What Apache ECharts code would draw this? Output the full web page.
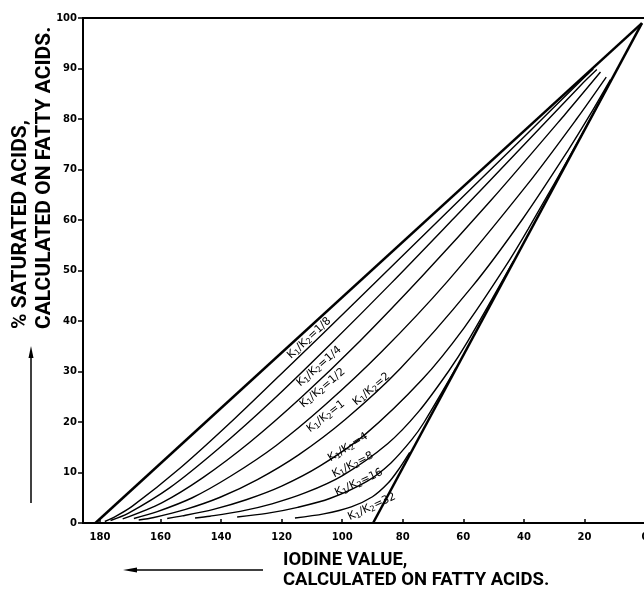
<!DOCTYPE html>
<html>
<head>
<meta charset="utf-8">
<script src="https://cdn.jsdelivr.net/npm/echarts@6/dist/echarts.min.js"></script>
<style>
html, body { margin: 0; padding: 0; background: #fff; }
#chart { width: 644px; height: 589px; }
</style>
</head>
<body>
<div id="chart"></div>
<script>
// iodine value (x) vs % saturated acids (y)
const upperEdge = [[181.5, 0], [1, 99]];
const rightEdge = [[89.8, 0], [1, 99]];

const k1_8 = [[178.4, 0.3], [176.1, 0.9], [169.4, 3.3], [153.3, 11.0], [135.3, 20.8], [116.4, 31.7], [97.1, 42.9], [77.7, 54.3], [58.3, 65.7], [38.9, 77.1], [19.4, 88.6], [17.1, 89.9]];
const k1_4 = [[176.5, 0.5], [170.7, 1.9], [156.9, 7.0], [140.9, 14.7], [123.0, 24.3], [103.9, 35.4], [83.8, 47.5], [63.2, 60.3], [42.3, 73.4], [21.2, 86.7], [15.9, 89.8]];
const k1_2 = [[172.5, 0.8], [159.6, 4.0], [146.0, 9.0], [130.5, 16.0], [113.3, 25.0], [94.2, 36.0], [73.4, 49.0], [50.7, 64.0], [26.3, 81.0], [14.7, 89.3]];
const k1 = [[168.8, 0.9], [161.3, 2.2], [149.5, 5.0], [136.5, 9.4], [121.9, 15.3], [105.6, 23.4], [87.0, 33.9], [65.3, 47.8], [38.9, 67.0], [22.6, 80.0], [12.8, 88.3]];
const k2 = [[167.2, 0.6], [162.2, 1.1], [151.7, 2.7], [140.3, 5.1], [128.0, 8.6], [114.4, 13.5], [99.0, 20.5], [80.8, 30.6], [57.1, 46.8], [40.3, 60.3], [25.5, 73.7], [18.0, 81.0], [11.4, 87.8]];
const k4 = [[157.8, 0.9], [152.8, 1.4], [142.5, 2.7], [131.7, 4.6], [120.0, 7.3], [107.3, 11.3], [92.5, 17.5], [73.6, 28.4], [59.8, 38.6], [46.4, 50.5], [38.6, 58.2], [21.4, 76.3], [12.0, 86.7]];
const k8 = [[148.6, 1.0], [143.7, 1.35], [133.7, 2.3], [123.2, 3.8], [112.1, 6.0], [99.9, 9.4], [85.0, 15.7], [74.7, 22.1], [64.7, 30.2], [58.6, 35.9], [43.5, 51.8]];
const k16 = [[134.7, 1.2], [124.9, 1.9], [114.7, 3.1], [103.9, 4.9], [91.7, 8.3], [83.9, 11.9], [76.9, 16.6], [72.9, 20.0], [62.4, 30.7]];
const k32 = [[115.6, 1.0], [106.1, 1.8], [97.0, 3.2], [90.0, 5.2], [85.0, 7.8], [81.5, 10.5], [77.7, 14.0]];

const curveNames = ['1/8', '1/4', '1/2', '1', '2', '4', '8', '16', '32'];
// label centre [iodine value, % saturated, angle in degrees]
const curveLabelPos = [[110.9, 36.6, 43], [107.6, 31.0, 41], [106.5, 26.7, 40], [105.4, 21.1, 38], [90.3, 26.5, 40], [98.1, 15.0, 32], [96.5, 11.5, 27], [94.5, 8.0, 25], [90.2, 3.2, 25]];

const chart = echarts.init(document.getElementById('chart'));
const curves = [k1_8, k1_4, k1_2, k1, k2, k4, k8, k16, k32];
const xTitleFont = 'bold 18.5px Roboto';
const yTitleFont = 'bold 21px Roboto';

const series = [
  { type: 'line', data: upperEdge, lineStyle: { width: 2.5 } },
  { type: 'line', data: rightEdge, lineStyle: { width: 2.5 } }
].concat(curves.map(d => ({ type: 'line', data: d, smooth: 0.3, lineStyle: { width: 1.4 } })));
series.forEach(s => {
  s.symbol = 'none';
  s.lineStyle.color = '#000';
  s.silent = true;
});

chart.setOption({
  animation: false,
  grid: {
    left: 83, right: -1, top: 18, bottom: 66, outerBoundsMode: 'none', containLabel: false,
    show: true, borderColor: '#000', borderWidth: 2
  },
  xAxis: {
    type: 'value', inverse: true, min: 0, max: 185.6, interval: 20,
    splitLine: { show: false },
    axisLine: { onZero: false, lineStyle: { color: '#000', width: 2 } },
    axisTick: { inside: true, length: 4, lineStyle: { color: '#000', width: 1.5 } },
    axisLabel: {
      color: '#000', fontFamily: 'DejaVu Sans', fontWeight: 'bold', fontSize: 10, margin: 9,
      formatter: v => (v % 20 === 0 ? String(v) : '')
    }
  },
  yAxis: {
    type: 'value', min: 0, max: 100, interval: 10,
    splitLine: { show: false },
    axisLine: { onZero: false, lineStyle: { color: '#000', width: 2 } },
    axisTick: { inside: false, length: 5, lineStyle: { color: '#000', width: 1.5 } },
    axisLabel: { color: '#000', fontFamily: 'DejaVu Sans', fontWeight: 'bold', fontSize: 10, margin: 6 }
  },
  series: series
});

const graphics = curveNames.map((n, i) => {
  const p = chart.convertToPixel({ gridIndex: 0 }, [curveLabelPos[i][0], curveLabelPos[i][1]]);
  return {
    type: 'text', x: p[0], y: p[1], rotation: curveLabelPos[i][2] * Math.PI / 180,
    style: {
      text: 'K{s|1}/K{s|2}=' + n, align: 'center', verticalAlign: 'middle',
      font: '11px "DejaVu Sans"', fill: '#000',
      rich: { s: { fontSize: 8, fontFamily: 'DejaVu Sans', padding: [5, 0, 0, 0] } }
    }
  };
});

graphics.push(
  { type: 'text', x: 21, y: 329, rotation: Math.PI / 2,
    style: { text: '% SATURATED ACIDS,', align: 'left', verticalAlign: 'middle', font: yTitleFont, fill: '#000' } },
  { type: 'text', x: 45, y: 329, rotation: Math.PI / 2,
    style: { text: 'CALCULATED ON FATTY ACIDS.', align: 'left', verticalAlign: 'middle', font: yTitleFont, fill: '#000' } },
  { type: 'text', x: 283, y: 560,
    style: { text: 'IODINE VALUE,', align: 'left', verticalAlign: 'middle', font: xTitleFont, fill: '#000' } },
  { type: 'text', x: 283, y: 580,
    style: { text: 'CALCULATED ON FATTY ACIDS.', align: 'left', verticalAlign: 'middle', font: xTitleFont, fill: '#000' } },
  // arrows
  { type: 'line', shape: { x1: 31, y1: 503, x2: 31, y2: 356 }, style: { stroke: '#000', lineWidth: 1.5 } },
  { type: 'polygon', shape: { points: [[31, 346], [28.5, 358], [33.5, 358]] }, style: { fill: '#000' } },
  { type: 'line', shape: { x1: 135, y1: 570, x2: 263, y2: 570 }, style: { stroke: '#000', lineWidth: 1.5 } },
  { type: 'polygon', shape: { points: [[123, 570], [137, 567.5], [137, 572.5]] }, style: { fill: '#000' } }
);

chart.setOption({ graphic: graphics });
</script>
</body>
</html>
